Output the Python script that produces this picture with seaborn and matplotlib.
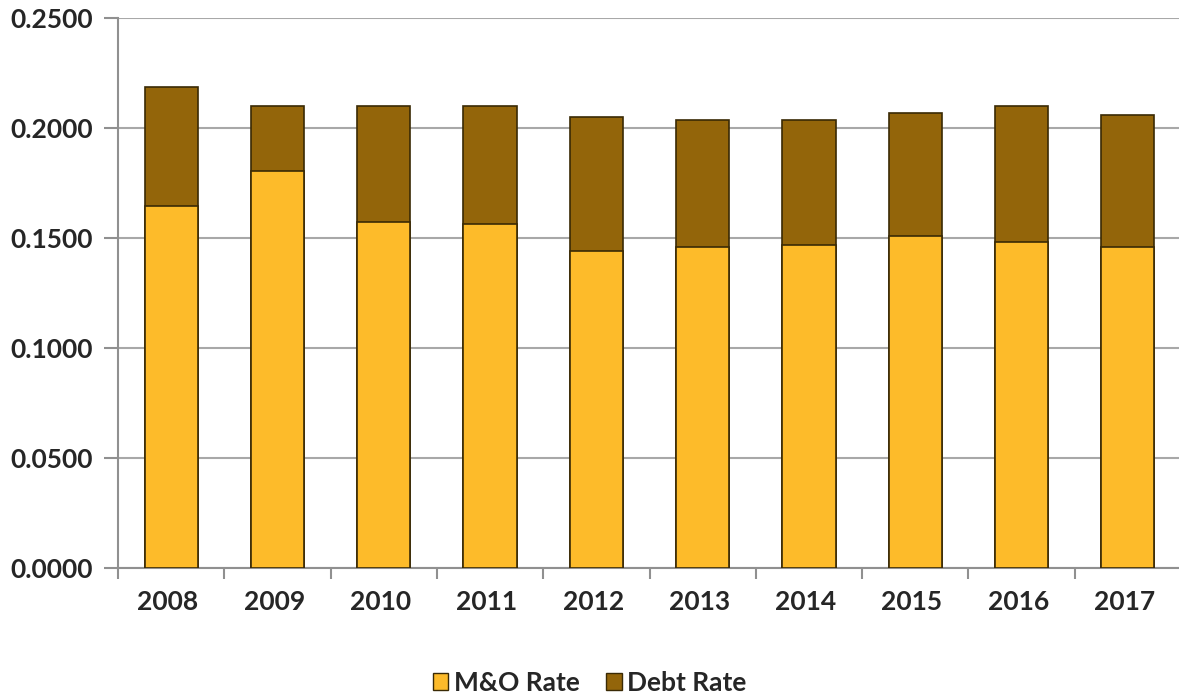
import matplotlib
matplotlib.use("Agg")
import matplotlib.pyplot as plt
import seaborn as sns
import pandas as pd
from matplotlib.patches import Patch

years = ["2008", "2009", "2010", "2011", "2012", "2013", "2014", "2015", "2016", "2017"]
mo_rate = [0.1645, 0.1805, 0.1574, 0.1564, 0.1443, 0.1459, 0.1469, 0.1509, 0.1484, 0.1459]
debt_rate = [0.0540, 0.0297, 0.0527, 0.0537, 0.0609, 0.0577, 0.0567, 0.0558, 0.0617, 0.0601]
yticks = [0.0, 0.05, 0.10, 0.15, 0.20, 0.25]

mo_color = "#FDBB2A"
debt_color = "#93650A"

sns.set_theme(style="white")
plt.rcParams["font.family"] = ["Lato", "DejaVu Sans"]

df = pd.DataFrame({"year": years, "mo": mo_rate, "debt": debt_rate})
df["total"] = df["mo"] + df["debt"]

fig = plt.figure(figsize=(11.79, 7.0), dpi=100)
ax = fig.add_axes([118 / 1179, 1 - 568 / 700, 1063 / 1179, 550 / 700])

sns.barplot(data=df, x="year", y="total", color=debt_color, saturation=1,
            width=0.5, edgecolor="#3a2a05", linewidth=1.2, ax=ax, zorder=3)
sns.barplot(data=df, x="year", y="mo", color=mo_color, saturation=1,
            width=0.5, edgecolor="#3a2a05", linewidth=1.2, ax=ax, zorder=3)

ax.set_ylim(0, 0.25)
ax.set_xlim(-0.5, 9.5)
ax.set_yticks(yticks)
ax.set_yticklabels([f"{v:.4f}" for v in yticks], fontsize=19, fontweight="bold")
ax.set_xticks([i - 0.03 for i in range(len(years))])
ax.set_xticklabels(years, fontsize=19, fontweight="bold")
ax.set_xlabel("")
ax.set_ylabel("")

ax.yaxis.grid(True, color="#A8A8A8", linewidth=1.5, zorder=0)
ax.set_axisbelow(True)
for s in ["top", "right"]:
    ax.spines[s].set_visible(False)
for s in ["left", "bottom"]:
    ax.spines[s].set_color("#909090")
    ax.spines[s].set_linewidth(1.5)

ax.tick_params(axis="y", length=10, width=1.5, color="#909090", direction="out", pad=8, left=True)
# x ticks at category boundaries
ax.tick_params(axis="x", length=0, pad=16)
ax.set_xticks([i - 0.5 for i in range(len(years) + 1)], minor=True)
ax.tick_params(axis="x", which="minor", length=8, width=1.5, color="#909090", direction="out", bottom=True)

handles = [Patch(facecolor=mo_color, edgecolor="#3a2a05", label="M&O Rate"),
           Patch(facecolor=debt_color, edgecolor="#3a2a05", label="Debt Rate")]
fig.legend(handles=handles, loc="center", bbox_to_anchor=(0.5, 1 - 683 / 700), ncol=2,
           frameon=False, prop={"size": 19, "weight": "bold"}, handlelength=0.6,
           handleheight=0.6, handletextpad=0.2, columnspacing=1.0)

fig.savefig("out.png", dpi=100)
